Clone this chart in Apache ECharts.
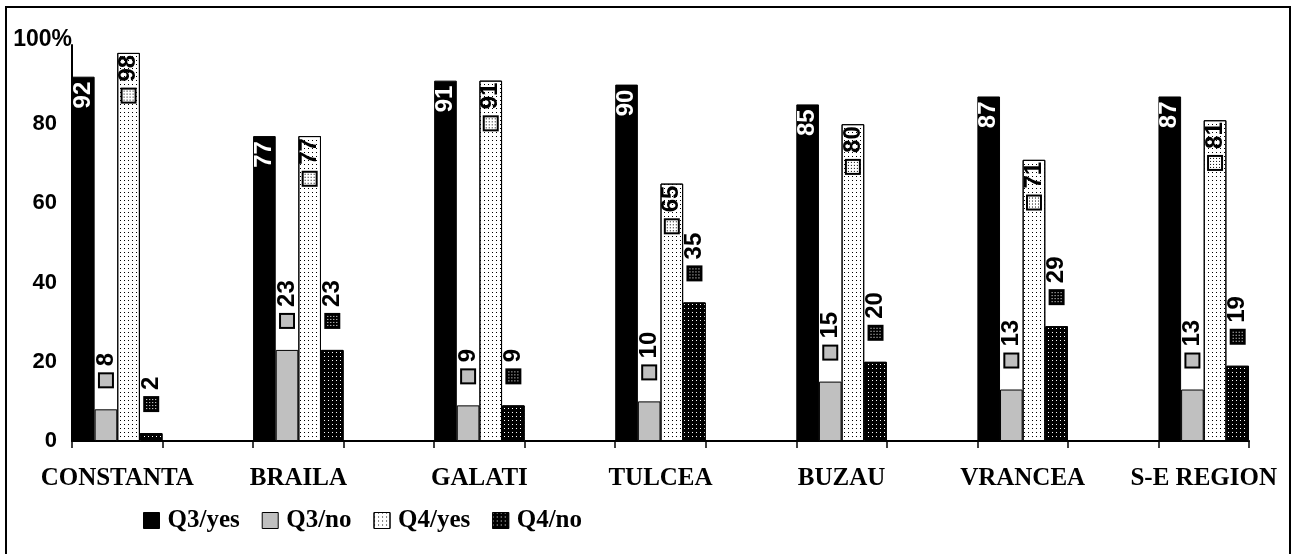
<!DOCTYPE html>
<html>
<head>
<meta charset="utf-8">
<script src="https://cdn.jsdelivr.net/npm/echarts@6/dist/echarts.min.js"></script>
<style>
  html, body { margin: 0; padding: 0; background: #fff; }
  #chart { width: 1291px; height: 554px; }
</style>
</head>
<body>
<div id="chart"></div>
<script>
// ---- data ----
const categories = ['CONSTANTA', 'BRAILA', 'GALATI', 'TULCEA', 'BUZAU', 'VRANCEA', 'S-E REGION'];
const seriesNames = ['Q3/yes', 'Q3/no', 'Q4/yes', 'Q4/no'];
const q3yes = [92, 77, 91, 90, 85, 87, 87];
const q3no  = [8, 23, 9, 10, 15, 13, 13];
const q4yes = [98, 77, 91, 65, 80, 71, 81];
const q4no  = [2, 23, 9, 35, 20, 29, 19];
const yTicks = [0, 20, 40, 60, 80, 100];

// spacer categories between groups (one empty slot between regions)
function spread(arr, empty) {
  const out = [];
  arr.forEach((v, i) => { out.push(v); if (i < arr.length - 1) out.push(empty); });
  return out;
}
const xCats = spread(categories, '');

// ---- pattern helpers ----
const KEY = 16;
function keyCanvas(bg, dot) {
  const c = document.createElement('canvas');
  c.width = KEY; c.height = KEY;
  const g = c.getContext('2d');
  g.fillStyle = '#000'; g.fillRect(0, 0, KEY, KEY);
  g.fillStyle = bg; g.fillRect(2, 2, KEY - 4, KEY - 4);
  if (dot) {
    g.fillStyle = dot;
    for (let y = 3; y < KEY - 3; y += 3) for (let x = 3; x < KEY - 3; x += 3) g.fillRect(x, y, 1, 1);
  }
  return c;
}
const keys = [keyCanvas('#000'), keyCanvas('#c0c0c0'), keyCanvas('#fff', '#000'), keyCanvas('#000', '#fff')];
const fills = ['#000', '#c0c0c0', '#fff', '#000'];
const decals = [
  null,
  null,
  { symbol: 'rect', symbolSize: 1, color: '#000', dashArrayX: [1, 3], dashArrayY: [1, 3] },
  { symbol: 'rect', symbolSize: 1, color: '#fff', dashArrayX: [1, 3], dashArrayY: [1, 3] }
];
const inside = [true, false, true, false];
const labelColors = ['#fff', '#000', '#000', '#000'];
const values = [q3yes, q3no, q4yes, q4no];

const SANS = '"Liberation Sans", Arial, sans-serif';
const SERIF = '"Liberation Serif", "Times New Roman", serif';

const series = values.map((vals, s) => {
  const itemStyle = { color: fills[s], borderColor: '#000', borderWidth: 1 };
  if (decals[s]) itemStyle.decal = decals[s];
  return {
    name: seriesNames[s],
    type: 'bar',
    data: spread(vals, '-'),
    barGap: '0%',
    barCategoryGap: '0%',
    itemStyle: itemStyle,
    label: {
      show: true,
      rotate: 90,
      position: inside[s] ? 'insideTop' : 'top',
      distance: inside[s] ? (s === 0 ? 5 : 2) : 21,
      align: inside[s] ? 'right' : 'left',
      verticalAlign: 'middle',
      formatter: p => (p.value === '-' || p.value == null) ? '' : '{k|}{v|' + p.value + '}',
      rich: {
        k: { width: KEY, height: KEY, backgroundColor: { image: keys[s] } },
        v: { fontSize: 24, fontWeight: 'bold', fontFamily: SANS, color: labelColors[s], padding: [0, 0, 0, 6] }
      }
    },
    emphasis: { disabled: true }
  };
});

const chart = echarts.init(document.getElementById('chart'), null, { renderer: 'canvas' });
chart.setOption({
  animation: false,
  backgroundColor: '#fff',
  grid: { left: 72, right: 42, top: 45, bottom: 113, containLabel: false },
  legend: {
    data: seriesNames,
    left: 143, top: 508,
    itemWidth: 16, itemHeight: 16, itemGap: 22,
    padding: 0,
    icon: 'rect',
    textStyle: { fontSize: 25, fontWeight: 'bold', fontFamily: SERIF, color: '#000', padding: [0, 0, 0, 3] },
    itemStyle: { borderColor: '#000', borderWidth: 1 }
  },
  xAxis: {
    type: 'category',
    data: xCats,
    boundaryGap: true,
    axisLine: { lineStyle: { color: '#000', width: 2 } },
    axisTick: { show: true, interval: 0, length: 7, lineStyle: { color: '#000', width: 1.5 } },
    axisLabel: { interval: 0, margin: 25, fontSize: 25, fontWeight: 'bold', fontFamily: SERIF, color: '#000' },
    splitLine: { show: false }
  },
  yAxis: {
    type: 'value',
    min: yTicks[0], max: yTicks[yTicks.length - 1], interval: yTicks[1] - yTicks[0],
    name: '100%',
    nameLocation: 'end',
    nameGap: 5,
    nameTextStyle: { align: 'right', verticalAlign: 'middle', fontSize: 23, fontWeight: 'bold', fontFamily: SANS, color: '#000' },
    axisLine: { show: true, lineStyle: { color: '#000', width: 2 } },
    axisTick: { show: false },
    splitLine: { show: false },
    axisLabel: {
      margin: 15, fontSize: 22, fontWeight: 'bold', fontFamily: SANS, color: '#000',
      formatter: v => (v === yTicks[yTicks.length - 1] ? '' : String(v))
    }
  },
  graphic: [{
    type: 'rect', silent: true, z: 100,
    shape: { x: 6, y: 7, width: 1284, height: 560 },
    style: { fill: null, stroke: '#000', lineWidth: 2 }
  }],
  series: series
});
</script>
</body>
</html>
